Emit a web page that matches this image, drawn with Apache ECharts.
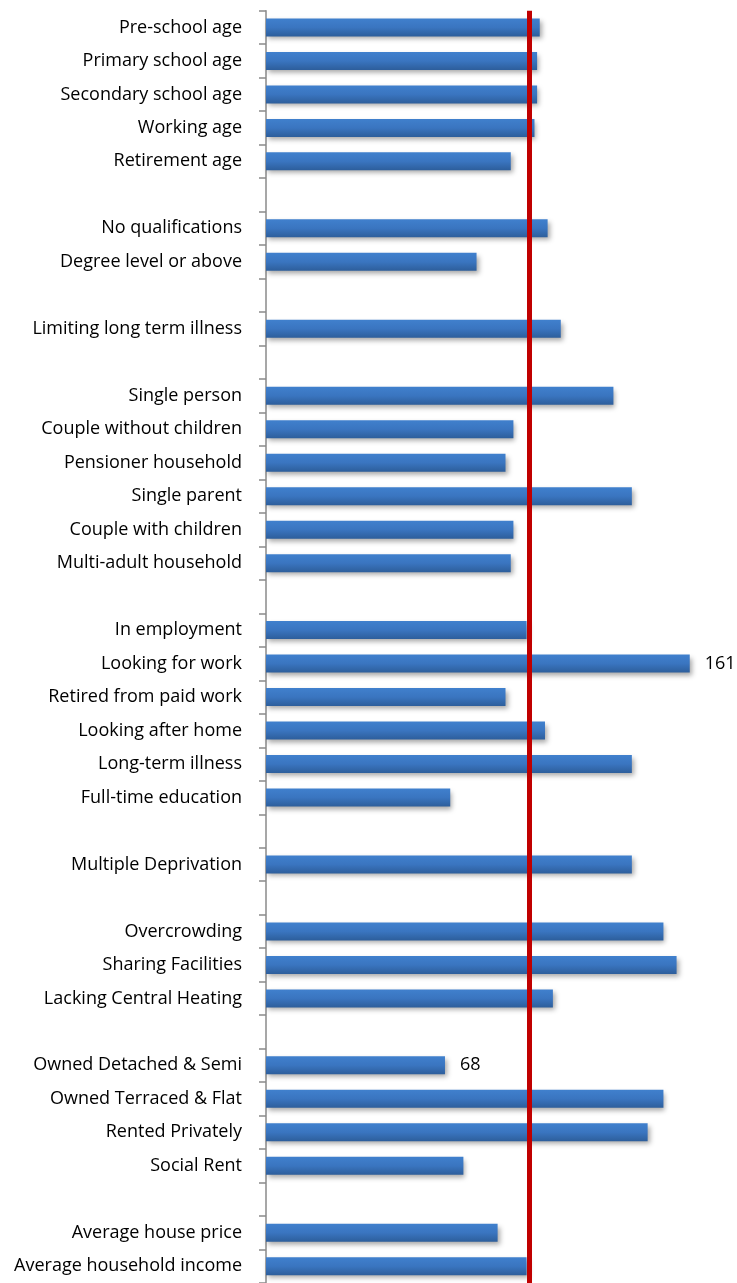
<!DOCTYPE html>
<html>
<head>
<meta charset="utf-8">
<script src="https://cdn.jsdelivr.net/npm/echarts@6/dist/echarts.min.js"></script>
<style>
html,body{margin:0;padding:0;background:#fff;}
#chart{width:737px;height:1283px;}
</style>
</head>
<body>
<div id="chart"></div>
<script>
// Categories (blank strings are spacer rows between groups)
const categories = [
  'Pre-school age','Primary school age','Secondary school age','Working age','Retirement age','',
  'No qualifications','Degree level or above','',
  'Limiting long term illness','',
  'Single person','Couple without children','Pensioner household','Single parent','Couple with children','Multi-adult household','',
  'In employment','Looking for work','Retired from paid work','Looking after home','Long-term illness','Full-time education','',
  'Multiple Deprivation','',
  'Overcrowding','Sharing Facilities','Lacking Central Heating','',
  'Owned Detached & Semi','Owned Terraced & Flat','Rented Privately','Social Rent','',
  'Average house price','Average household income'
];
// Index values (100 = reference average)
const values = [
  104, 103, 103, 102, 93, null,
  107, 80, null,
  112, null,
  132, 94, 91, 139, 94, 93, null,
  99, 161, 91, 106, 139, 70, null,
  139, null,
  151, 156, 109, null,
  68, 151, 145, 75, null,
  88, 99
];
const labelled = ['Looking for work', 'Owned Detached & Semi'];
const referenceValue = [100];

const FONT = 'Open Sans';
const chart = echarts.init(document.getElementById('chart'), null, {renderer: 'canvas'});

const barData = values.map((v, i) => labelled.indexOf(categories[i]) >= 0
  ? {value: v, label: {show: true}}
  : v);

chart.setOption({
  animation: false,
  backgroundColor: '#ffffff',
  grid: {left: 266, top: 10.7, width: 460.6, height: 1277.2, containLabel: false},
  xAxis: {
    type: 'value', min: 0, max: 175,
    show: false
  },
  yAxis: {
    type: 'category',
    data: categories,
    inverse: true,
    boundaryGap: true,
    axisLine: {show: true, lineStyle: {color: '#8a8a8a', width: 1.5}},
    axisTick: {show: true, length: 7, inside: false, alignWithLabel: false, lineStyle: {color: '#8a8a8a', width: 1.5}},
    axisLabel: {
      margin: 24, fontFamily: FONT, fontSize: 18, color: '#000000', interval: 0
    },
    splitLine: {show: false}
  },
  series: [
    {
      type: 'line',
      data: [],
      z: 1,
      silent: true,
      markLine: {
        silent: true,
        symbol: ['none', 'none'],
        label: {show: false},
        lineStyle: {color: '#c00000', width: 5, type: 'solid'},
        data: referenceValue.map(v => ({xAxis: v}))
      }
    },
    {
      type: 'bar',
      z: 2,
      data: barData,
      barWidth: 18,
      itemStyle: {
        color: new echarts.graphic.LinearGradient(0, 0, 0, 1, [
          {offset: 0, color: '#4080cd'},
          {offset: 0.5, color: '#3a75c0'},
          {offset: 1, color: '#2d5e9b'}
        ]),
        shadowColor: 'rgba(0,0,0,0.35)',
        shadowBlur: 5,
        shadowOffsetX: 2,
        shadowOffsetY: 3
      },
      label: {
        show: false,
        position: 'right',
        distance: 15,
        fontFamily: FONT,
        fontSize: 18,
        color: '#000000'
      }
    }
  ]
});
</script>
</body>
</html>
